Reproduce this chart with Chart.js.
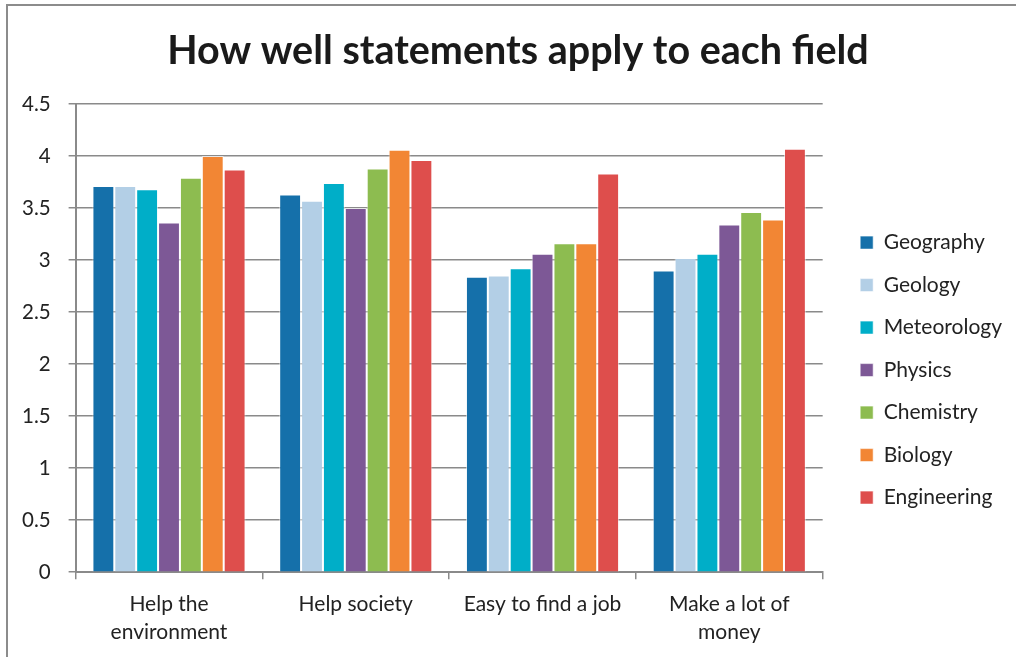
<!DOCTYPE html>
<html>
<head>
<meta charset="utf-8">
<script src="https://cdn.jsdelivr.net/npm/chart.js@4"></script>
<style>
  body { margin: 0; background: #fff; overflow: hidden; }
  #frame { position: absolute; left: 6px; top: 4px; width: 1024px; height: 651px; border: 2px solid #8c8c8c; }
</style>
</head>
<body>
<div id="frame"><canvas id="fieldChart" width="1024" height="651"></canvas></div>
<script>
const categories = [["Help the", "environment"], "Help society", "Easy to find a job", ["Make a lot of", "money"]];

const geography   = [3.71, 3.63, 2.84, 2.90];
const geology     = [3.71, 3.57, 2.85, 3.02];
const meteorology = [3.68, 3.74, 2.92, 3.06];
const physics     = [3.36, 3.50, 3.06, 3.34];
const chemistry   = [3.79, 3.88, 3.16, 3.46];
const biology     = [4.00, 4.06, 3.16, 3.39];
const engineering = [3.87, 3.96, 3.83, 4.07];

const fieldNames = ["Geography", "Geology", "Meteorology", "Physics", "Chemistry", "Biology", "Engineering"];
const fieldColors = ["#1570AA", "#B3CFE6", "#00AEC8", "#7D5896", "#8DBC50", "#F28634", "#DE4E4C"];
const seriesValues = [geography, geology, meteorology, physics, chemistry, biology, engineering];

const yTicks = [0, 0.5, 1, 1.5, 2, 2.5, 3, 3.5, 4, 4.5];

const font = "Lato, 'Open Sans', sans-serif";

// make the legend box a bit wider so its items sit further left
const legendWiden = {
    id: "legendWiden",
    beforeInit(chart) {
        const fit = chart.legend.fit;
        chart.legend.fit = function () {
            fit.call(this);
            this.width += 22;
        };
    },
};

const data = {
    labels: categories,
    datasets: fieldNames.map((name, i) => ({
        label: name,
        data: seriesValues[i],
        backgroundColor: fieldColors[i],
        borderColor: "rgba(255,255,255,0.6)",
        borderWidth: 1,
        categoryPercentage: 0.82,
        barPercentage: 1.0,
    })),
};

const config = {
    type: "bar",
    data: data,
    plugins: [legendWiden],
    options: {
        responsive: false,
        animation: false,
        layout: { padding: { left: -4, right: 0, top: 0, bottom: 0 } },
        plugins: {
            title: {
                display: true,
                text: "How well statements apply to each field",
                color: "#1a1a1a",
                font: { family: font, size: 39.5, weight: "bold" },
                padding: { top: 22, bottom: 28.5 },
            },
            legend: {
                position: "right",
                // empty legend title only pushes the item column down a little
                title: { display: true, text: " ", font: { size: 1 }, padding: { top: 76, bottom: 0 } },
                labels: {
                    boxWidth: 13,
                    boxHeight: 13,
                    padding: 21.5,
                    color: "#222",
                    font: { family: font, size: 21 },
                },
            },
            tooltip: { enabled: false },
        },
        scales: {
            x: {
                grid: { display: true, drawOnChartArea: false, color: "#8a8a8a", lineWidth: 1.5, tickLength: 7 },
                border: { color: "#8a8a8a", width: 2 },
                ticks: { color: "#222", padding: 11, font: { family: font, size: 21, lineHeight: 1.33 }, maxRotation: 0 },
            },
            y: {
                min: 0,
                max: 4.5,
                afterBuildTicks: (scale) => { scale.ticks = yTicks.map(v => ({ value: v })); },
                grid: { color: "#8a8a8a", lineWidth: 1.5, tickLength: 7 },
                border: { color: "#8a8a8a", width: 2 },
                ticks: { color: "#222", padding: 18, font: { family: font, size: 20.5 }, callback: (v) => String(v) },
            },
            gap: {
                position: "right",
                display: true,
                grid: { display: false },
                border: { display: false },
                ticks: { display: false },
                afterFit: (scale) => { scale.width = 16; },
            },
        },
    },
};

let myChart = new Chart(document.getElementById("fieldChart"), config);
</script>
</body>
</html>
